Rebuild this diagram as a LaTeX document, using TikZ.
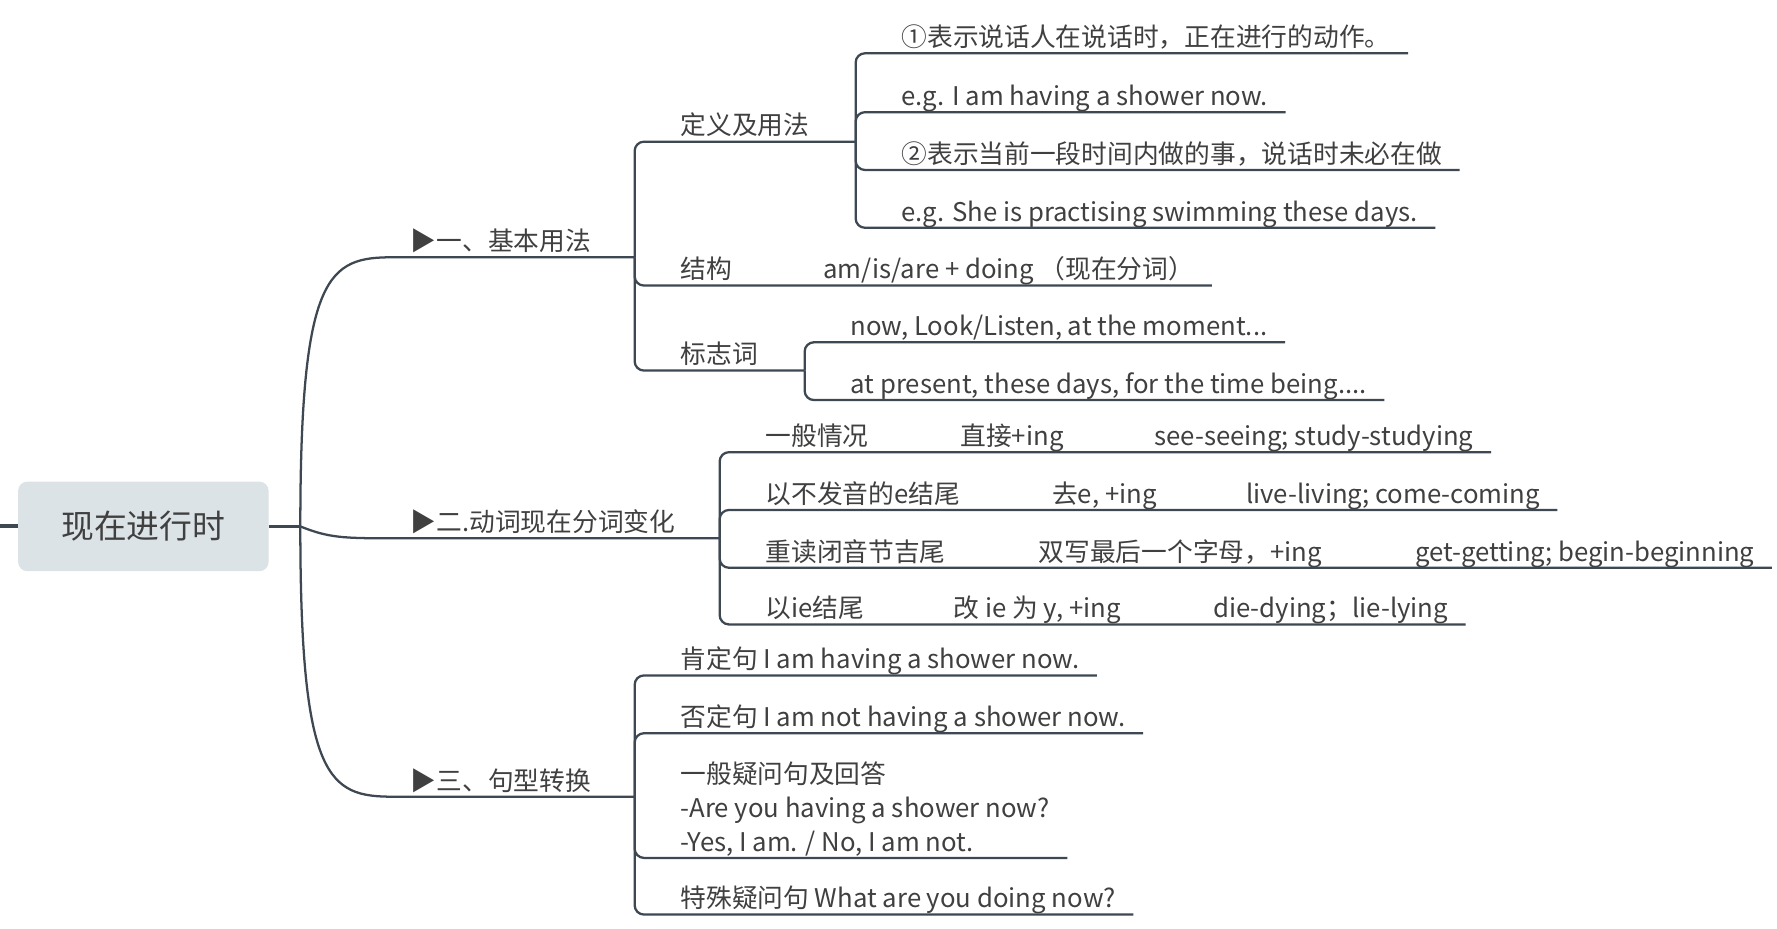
\documentclass[tikz,border=0pt]{standalone}
\usepackage{fontspec}
\setmainfont{Noto Sans CJK SC}
\usepackage{tikz}
\definecolor{linecol}{RGB}{62,72,82}
\definecolor{textcol}{RGB}{64,64,64}
\definecolor{rootfill}{RGB}{220,227,230}
\tikzset{
	conn/.style={draw=linecol, line width=1.7pt},
	child/.style={conn, rounded corners=7pt},
	topic/.style={anchor=south west, inner xsep=13pt, inner ysep=0pt,
		text height=15pt, text depth=4.8pt, text=textcol,
		font=\fontsize{19.3}{25.5}\selectfont},
	roottopic/.style={fill=rootfill, rounded corners=7pt, text=textcol,
		minimum width=187.9pt, minimum height=67.2pt, inner sep=0pt,
		font=\fontsize{24.6}{30}\selectfont},
}

\begin{document}
\begin{tikzpicture}[x=0.85pt, y=-0.85pt]
	\fill[white] (0,0) rectangle (1568,819);
	\useasboundingbox (0,0) rectangle (1568,819);
	% central topic
	\node[roottopic] (root) at (126.5,464.5) {现在进行时};
	\coordinate (stub) at (0,464.5);
	\coordinate (hub) at (265,464.5);
	\draw[conn, line width=3pt] (stub) -- (root.west);
	\draw[conn] (root.east) -- (hub);
	% main branches
	\node[topic] (basic) at (347,227) {▶一、基本用法};
	\node[topic] (ing) at (347,475) {▶二.动词现在分词变化};
	\node[topic] (trans) at (347,703) {▶三、句型转换};
	\coordinate (basicJ) at (560,227);
	\coordinate (ingJ) at (635,475);
	\coordinate (transJ) at (560,703);
	\draw[conn] (hub) .. controls +(0,-224) and +(-57,0) .. (basic.south west) -- (basicJ);
	\draw[conn] (hub) .. controls +(25,10) and +(-45,0) .. (ing.south west) -- (ingJ);
	\draw[conn] (hub) .. controls +(0,224) and +(-57,0) .. (trans.south west) -- (transJ);
	% 一、基本用法
	\node[topic] (usage) at (585,125) {定义及用法};
	\node[topic] (struct) at (585,252) {\makebox[107pt][l]{结构}am/is/are + doing （现在分词）};
	\node[topic] (signal) at (585,327) {标志词};
	\coordinate (usageJ) at (755,125);
	\coordinate (signalJ) at (710,327);
	\draw[child] (basicJ) |- (usage.south west) -- (usageJ);
	\draw[child] (basicJ) |- (struct.south west) -- (struct.south east);
	\draw[child] (basicJ) |- (signal.south west) -- (signalJ);
	\node[topic] (use1) at (780,47) {①表示说话人在说话时，正在进行的动作。};
	\node[topic] (use2) at (780,99) {e.g. I am having a shower now.};
	\node[topic] (use3) at (780,150) {②表示当前一段时间内做的事，说话时未必在做};
	\node[topic] (use4) at (780,201) {e.g. She is practising swimming these days.};
	\foreach \n in {use1,use2,use3,use4}
		\draw[child] (usageJ) |- (\n.south west) -- (\n.south east);
	\node[topic] (sig1) at (735,302) {now, Look/Listen, at the moment...};
	\node[topic] (sig2) at (735,353) {at present, these days, for the time being....};
	\foreach \n in {sig1,sig2}
		\draw[child] (signalJ) |- (\n.south west) -- (\n.south east);
	% 二.动词现在分词变化
	\node[topic] (rule1) at (660,399) {\makebox[146.2pt][l]{一般情况}\makebox[145.4pt][l]{直接+ing}see-seeing; study-studying};
	\node[topic] (rule2) at (660,450) {\makebox[215pt][l]{以不发音的e结尾}\makebox[145.4pt][l]{去e, +ing}live-living; come-coming};
	\node[topic] (rule3) at (660,501) {\makebox[204.9pt][l]{重读闭音节吉尾}\makebox[282.2pt][l]{双写最后一个字母，+ing}get-getting; begin-beginning};
	\node[topic] (rule4) at (660,551) {\makebox[141.1pt][l]{以ie结尾}\makebox[194.7pt][l]{改 ie 为 y, +ing}die-dying；lie-lying};
	\foreach \n in {rule1,rule2,rule3,rule4}
		\draw[child] (ingJ) |- (\n.south west) -- (\n.south east);
	% 三、句型转换
	\node[topic] (pos) at (585,596) {肯定句 I am having a shower now.};
	\node[topic] (neg) at (585,647) {否定句 I am not having a shower now.};
	\node[topic, align=left, text height=66pt] (yesno) at (585,757) {一般疑问句及回答\\-Are you having a shower now?\\-Yes, I am. / No, I am not.};
	\node[topic] (wh) at (585,807) {特殊疑问句 What are you doing now?};
	\foreach \n in {pos,neg,yesno,wh}
		\draw[child] (transJ) |- (\n.south west) -- (\n.south east);
\end{tikzpicture}
\end{document}
